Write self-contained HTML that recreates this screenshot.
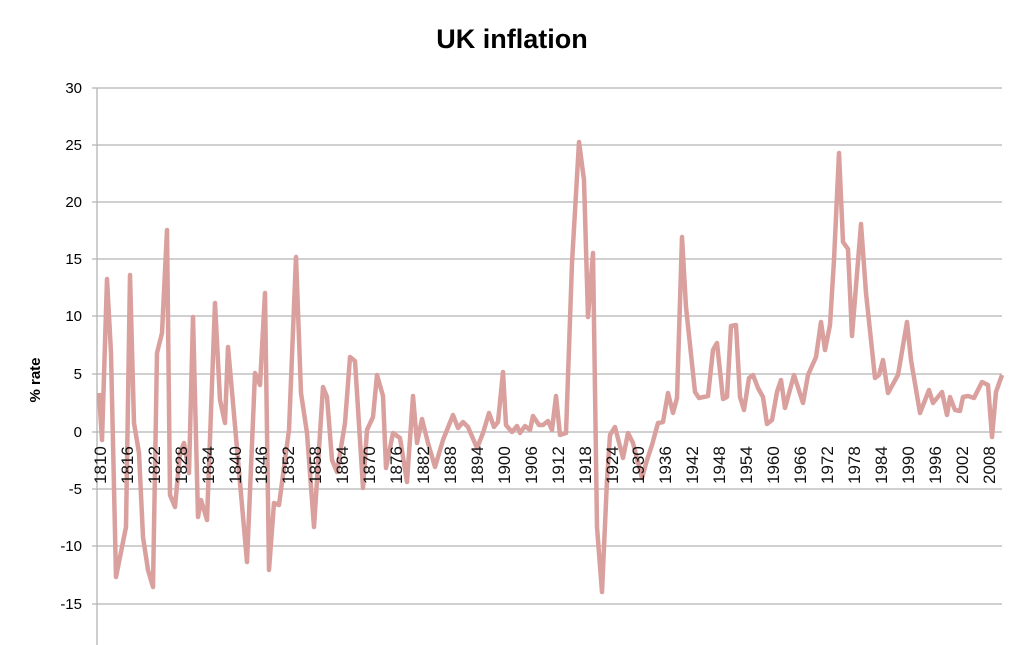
<!DOCTYPE html>
<html><head><meta charset="utf-8"><style>
html,body{margin:0;padding:0;background:#fff;}
svg{display:block;font-family:"Liberation Sans",sans-serif;}
</style></head><body>
<svg width="1023" height="645" viewBox="0 0 1023 645">
<rect width="1023" height="645" fill="#fff"/>
<text x="512" y="48" text-anchor="middle" font-size="27" font-weight="bold" fill="#000">UK inflation</text>
<g stroke="#b4b4b4" stroke-width="1.3">
<line x1="92" y1="88" x2="1002" y2="88"/>
<line x1="92" y1="145" x2="1002" y2="145"/>
<line x1="92" y1="202" x2="1002" y2="202"/>
<line x1="92" y1="259" x2="1002" y2="259"/>
<line x1="92" y1="316" x2="1002" y2="316"/>
<line x1="92" y1="374" x2="1002" y2="374"/>
<line x1="92" y1="432" x2="1002" y2="432"/>
<line x1="92" y1="489" x2="1002" y2="489"/>
<line x1="92" y1="546" x2="1002" y2="546"/>
<line x1="92" y1="604" x2="1002" y2="604"/>
<line x1="97" y1="88" x2="97" y2="645"/>
</g>
<g font-size="15" text-anchor="end" fill="#000">
<text x="82" y="93">30</text><text x="82" y="150">25</text><text x="82" y="207">20</text>
<text x="82" y="264">15</text><text x="82" y="321">10</text><text x="82" y="379">5</text>
<text x="82" y="437">0</text><text x="82" y="494">-5</text><text x="82" y="551">-10</text>
<text x="82" y="609">-15</text>
</g>
<text transform="translate(40,380) rotate(-90)" text-anchor="middle" font-size="15" font-weight="bold">% rate</text>
<polyline fill="none" stroke="#d9a09e" stroke-width="4.5" stroke-linejoin="round" points="99,393 102,440 107,279 111,353 116,577 126,527 130,275 134,423 139,453 143,537 148,570 153,587 157,353 162,333 167,230 170,495 175,507 180,453 184,443 189,473 193,317 198,517 201,500 207,520 215,303 220,400 225,423 228,347 233,403 247,562 255,373 260,385 265,293 269,570 274,503 279,505 289,430 296,257 301,393 307,433 314,527 323,387 327,397 332,460 337,472 345,423 350,357 355,361 363,488 367,430 373,417 377,375 383,396 386,468 393,433 400,438 407,482 413,396 417,443 422,419 428,443 435,467 443,440 453,415 458,428 463,422 468,427 477,448 483,433 489,413 494,427 498,422 503,372 506,425 512,432 517,426 520,433 525,426 530,430 533,416 539,425 543,425 548,421 552,430 556,396 560,435 566,433 572,263 579,142 584,180 588,317 593,253 597,527 602,592 607,480 610,435 615,427 623,458 628,433 633,443 642,478 647,460 652,445 658,423 663,422 668,393 673,413 677,398 682,237 686,307 695,392 699,398 708,396 713,350 717,343 723,399 727,397 731,326 736,325 740,397 744,410 749,378 753,375 758,388 763,397 767,424 772,420 777,392 781,380 785,408 794,375 803,403 808,375 816,357 821,322 825,350 830,325 834,260 839,153 843,242 848,249 852,336 861,224 866,293 875,378 879,375 883,360 888,393 898,375 907,322 911,360 920,413 929,390 933,403 942,392 947,415 950,397 955,410 960,411 963,397 968,396 974,398 982,382 988,385 992,437 996,392 1002,375"/>
<g font-size="17" fill="#111">
<text transform="translate(106,484) rotate(-90)">1810</text>
<text transform="translate(133,484) rotate(-90)">1816</text>
<text transform="translate(160,484) rotate(-90)">1822</text>
<text transform="translate(187,484) rotate(-90)">1828</text>
<text transform="translate(214,484) rotate(-90)">1834</text>
<text transform="translate(241,484) rotate(-90)">1840</text>
<text transform="translate(267,484) rotate(-90)">1846</text>
<text transform="translate(294,484) rotate(-90)">1852</text>
<text transform="translate(321,484) rotate(-90)">1858</text>
<text transform="translate(348,484) rotate(-90)">1864</text>
<text transform="translate(375,484) rotate(-90)">1870</text>
<text transform="translate(402,484) rotate(-90)">1876</text>
<text transform="translate(429,484) rotate(-90)">1882</text>
<text transform="translate(456,484) rotate(-90)">1888</text>
<text transform="translate(483,484) rotate(-90)">1894</text>
<text transform="translate(510,484) rotate(-90)">1900</text>
<text transform="translate(537,484) rotate(-90)">1906</text>
<text transform="translate(564,484) rotate(-90)">1912</text>
<text transform="translate(591,484) rotate(-90)">1918</text>
<text transform="translate(618,484) rotate(-90)">1924</text>
<text transform="translate(644,484) rotate(-90)">1930</text>
<text transform="translate(671,484) rotate(-90)">1936</text>
<text transform="translate(698,484) rotate(-90)">1942</text>
<text transform="translate(725,484) rotate(-90)">1948</text>
<text transform="translate(752,484) rotate(-90)">1954</text>
<text transform="translate(779,484) rotate(-90)">1960</text>
<text transform="translate(806,484) rotate(-90)">1966</text>
<text transform="translate(833,484) rotate(-90)">1972</text>
<text transform="translate(860,484) rotate(-90)">1978</text>
<text transform="translate(887,484) rotate(-90)">1984</text>
<text transform="translate(914,484) rotate(-90)">1990</text>
<text transform="translate(941,484) rotate(-90)">1996</text>
<text transform="translate(968,484) rotate(-90)">2002</text>
<text transform="translate(995,484) rotate(-90)">2008</text>
</g>
</svg>
</body></html>
